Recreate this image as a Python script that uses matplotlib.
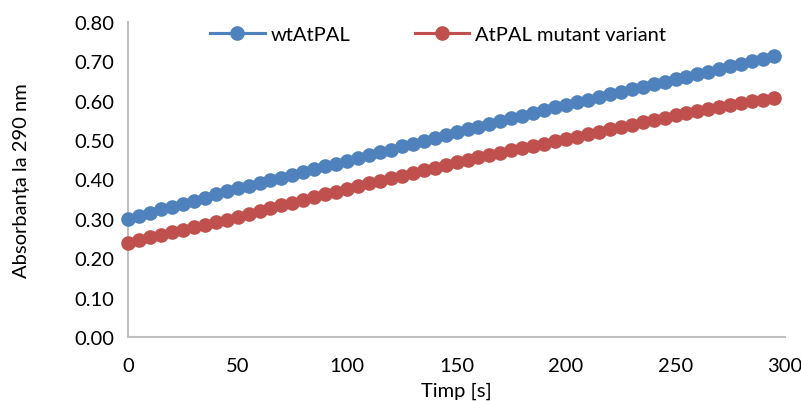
import matplotlib
matplotlib.use("Agg")
import matplotlib.pyplot as plt
from matplotlib.ticker import FormatStrFormatter

plt.rcParams['font.family'] = ['Lato', 'DejaVu Sans']

# time points [s]
timp = [0, 5, 10, 15, 20, 25, 30, 35, 40, 45,
        50, 55, 60, 65, 70, 75, 80, 85, 90, 95,
        100, 105, 110, 115, 120, 125, 130, 135, 140, 145,
        150, 155, 160, 165, 170, 175, 180, 185, 190, 195,
        200, 205, 210, 215, 220, 225, 230, 235, 240, 245,
        250, 255, 260, 265, 270, 275, 280, 285, 290, 295]

wt = [0.301, 0.308, 0.316, 0.324, 0.331, 0.339, 0.346, 0.354, 0.362, 0.370,
      0.378, 0.384, 0.391, 0.398, 0.405, 0.412, 0.419, 0.426, 0.433, 0.440,
      0.447, 0.454, 0.462, 0.469, 0.476, 0.484, 0.491, 0.498, 0.505, 0.513,
      0.520, 0.527, 0.534, 0.541, 0.548, 0.555, 0.562, 0.569, 0.576, 0.583,
      0.590, 0.596, 0.603, 0.609, 0.616, 0.622, 0.629, 0.635, 0.642, 0.648,
      0.655, 0.661, 0.668, 0.674, 0.681, 0.687, 0.693, 0.700, 0.706, 0.713]

mutant = [0.240, 0.247, 0.253, 0.259, 0.266, 0.272, 0.279, 0.285, 0.292, 0.298,
          0.305, 0.312, 0.319, 0.327, 0.334, 0.341, 0.348, 0.355, 0.362, 0.369,
          0.376, 0.383, 0.390, 0.397, 0.403, 0.410, 0.417, 0.424, 0.430, 0.437,
          0.444, 0.450, 0.456, 0.462, 0.468, 0.474, 0.479, 0.485, 0.491, 0.497,
          0.503, 0.509, 0.515, 0.521, 0.527, 0.533, 0.539, 0.545, 0.551, 0.557,
          0.563, 0.568, 0.574, 0.579, 0.584, 0.589, 0.594, 0.598, 0.603, 0.607]

fig = plt.figure(figsize=(8.01, 4.02), dpi=100)
ax = fig.add_axes([0.16, 0.159, 0.82, 0.784])

ax.plot(timp, wt, color='#4f81bd', marker='o', markersize=9.5, linewidth=2.25,
        label='wtAtPAL', clip_on=False, zorder=3)
ax.plot(timp, mutant, color='#c0504d', marker='o', markersize=9.5, linewidth=2.25,
        label='AtPAL mutant variant', clip_on=False, zorder=3)

ax.set_xlim(0, 300)
ax.set_ylim(0, 0.8)
ax.set_xticks([0, 50, 100, 150, 200, 250, 300])
ax.set_yticks([0, 0.1, 0.2, 0.3, 0.4, 0.5, 0.6, 0.7, 0.8])
ax.yaxis.set_major_formatter(FormatStrFormatter('%.2f'))
ax.tick_params(length=0, labelsize=14.5, colors='#000000', pad=10)
ax.tick_params(axis='x', pad=14)

for s in ['top', 'right']:
    ax.spines[s].set_visible(False)
for s in ['left', 'bottom']:
    ax.spines[s].set_color('#bfbfbf')
    ax.spines[s].set_linewidth(1.5)

ax.set_xlabel('Timp [s]', fontsize=14.5)
ax.xaxis.set_label_coords(0.5, -0.14)
ax.set_ylabel('Absorbanța la 290 nm', fontsize=14.5, labelpad=32)

ax.legend(loc='upper center', bbox_to_anchor=(0.472, 1.045), ncol=2, frameon=False,
          fontsize=14.5, handlelength=2.7, columnspacing=3.2, handletextpad=0.3)

fig.savefig('out.png', dpi=100)
